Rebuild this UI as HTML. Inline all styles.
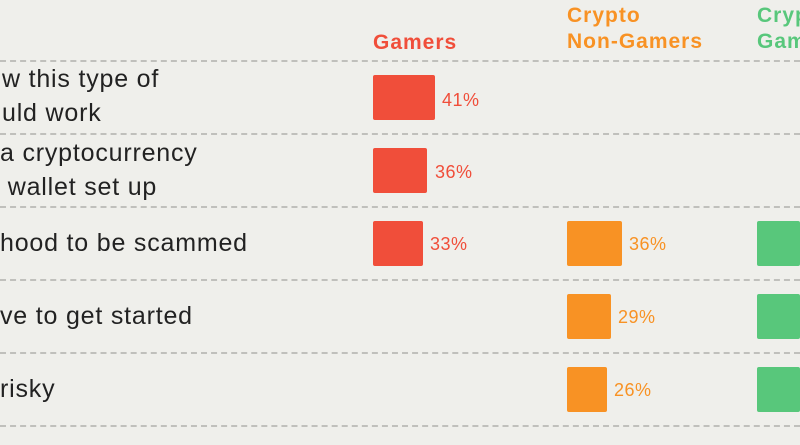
<!DOCTYPE html>
<html><head><style>
html,body{margin:0;padding:0;overflow:hidden}
body{width:800px;height:445px;background:#efefeb;font-family:"Liberation Sans",sans-serif}
#w{position:relative;width:800px;height:445px;overflow:hidden}
.a{position:absolute;white-space:nowrap}
.l{font-size:25px;color:#222;line-height:34px;letter-spacing:0.8px}
.h{font-size:21px;font-weight:bold;line-height:26px;letter-spacing:1px}
.d{position:absolute;left:0;width:800px;border-top:2px dashed #c0c0bc}
.b{position:absolute;height:45px;border-radius:2px}
.p{position:absolute;font-size:18px;line-height:20px;letter-spacing:0.5px}
.r{background:#f04e3a}.o{background:#f89224}.g{background:#58c77b}
.tr{color:#f04e3a}.to{color:#f89224}.tg{color:#58c77b}
</style></head><body><div id="w">
<div class="a h tr" style="left:373px;top:30px">Gamers</div>
<div class="a h to" style="left:567px;top:3px">Crypto<br>Non-Gamers</div>
<div class="a h tg" style="left:757px;top:3px">Crypto<br>Gamers</div>
<div class="d" style="top:60px"></div>
<div class="d" style="top:133px"></div>
<div class="d" style="top:206px"></div>
<div class="d" style="top:279px"></div>
<div class="d" style="top:352px"></div>
<div class="d" style="top:425px"></div>
<div class="a l" style="left:2px;top:62px">w this type of<br>uld work</div>
<div class="a l" style="left:0px;top:136px">a cryptocurrency<br>&nbsp;wallet set up</div>
<div class="a l" style="left:0px;top:226px">hood to be scammed</div>
<div class="a l" style="left:0px;top:299px">ve to get started</div>
<div class="a l" style="left:0px;top:372px">risky</div>
<div class="b r" style="left:373px;top:75px;width:62px"></div><div class="p tr" style="left:442px;top:90px">41%</div>
<div class="b r" style="left:373px;top:148px;width:54px"></div><div class="p tr" style="left:435px;top:162px">36%</div>
<div class="b r" style="left:373px;top:221px;width:50px"></div><div class="p tr" style="left:430px;top:234px">33%</div>
<div class="b o" style="left:567px;top:221px;width:55px"></div><div class="p to" style="left:629px;top:234px">36%</div>
<div class="b o" style="left:567px;top:294px;width:44px"></div><div class="p to" style="left:618px;top:307px">29%</div>
<div class="b o" style="left:567px;top:367px;width:40px"></div><div class="p to" style="left:614px;top:380px">26%</div>
<div class="b g" style="left:757px;top:221px;width:43px"></div>
<div class="b g" style="left:757px;top:294px;width:43px"></div>
<div class="b g" style="left:757px;top:367px;width:43px"></div>
</div></body></html>
